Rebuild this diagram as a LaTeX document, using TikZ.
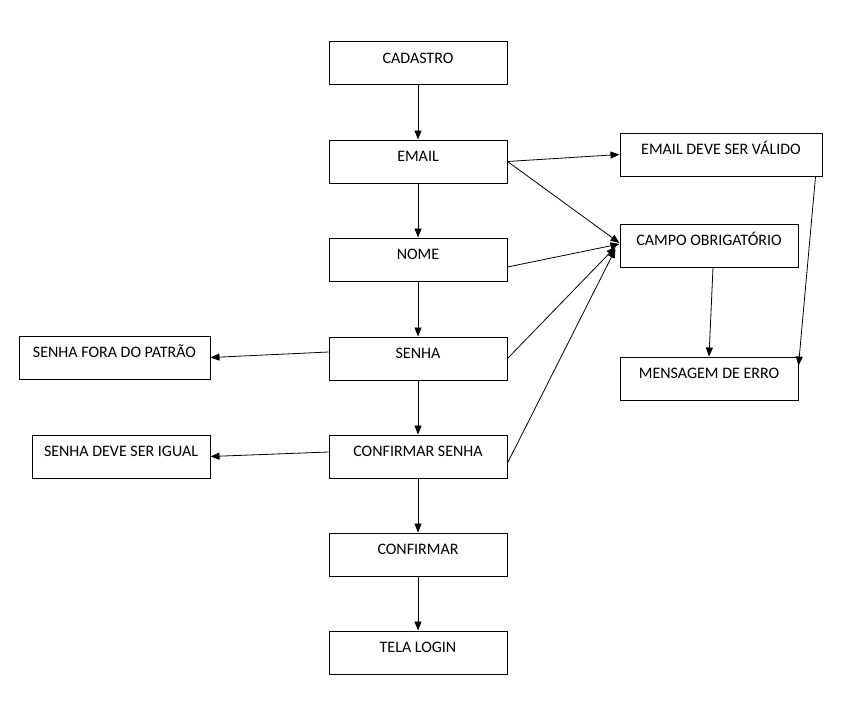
\documentclass[tikz,border=0pt]{standalone}
\usepackage{fontspec}
\setmainfont{Carlito}
\usetikzlibrary{arrows.meta}
\begin{document}
\begin{tikzpicture}[x=1pt,y=-1pt,
  box/.style={draw=black,line width=1pt,minimum height=43pt,inner sep=1pt,
    text height=10pt,text depth=9.7pt,font=\fontsize{16}{19}\selectfont},
  arr/.style={draw=black,line width=0.8pt,-{Triangle[length=9pt,width=7pt]}}]
\useasboundingbox (0,0) rectangle (845,706);
% main column
\node[box,minimum width=178pt] (cad) at (418,63.5) {CADASTRO};
\node[box,minimum width=178pt] (email) at (418,161.5) {EMAIL};
\node[box,minimum width=178pt] (nome) at (418,259.5) {NOME};
\node[box,minimum width=178pt] (senha) at (418,358.5) {SENHA};
\node[box,minimum width=178pt] (conf) at (418,456.5) {CONFIRMAR SENHA};
\node[box,minimum width=178pt] (confirmar) at (418,554.5) {CONFIRMAR};
\node[box,minimum width=178pt] (login) at (418,652.5) {TELA LOGIN};
% right column
\node[box,minimum width=202pt] (valido) at (721,154.5) {EMAIL DEVE SER VÁLIDO};
\node[box,minimum width=178pt] (campo) at (709,245.5) {CAMPO OBRIGATÓRIO};
\node[box,minimum width=178pt] (msg) at (709,378.5) {MENSAGEM DE ERRO};
% left column
\node[box,minimum width=191pt] (fora) at (114.5,357.5) {SENHA FORA DO PATRÃO};
\node[box,minimum width=178pt] (igual) at (121,456.5) {SENHA DEVE SER IGUAL};
% vertical flow
\draw[arr] (cad.south) -- (email.north);
\draw[arr] (email.south) -- (nome.north);
\draw[arr] (nome.south) -- (senha.north);
\draw[arr] (senha.south) -- (conf.north);
\draw[arr] (conf.south) -- (confirmar.north);
\draw[arr] (confirmar.south) -- (login.north);
% to the right
\draw[arr] (email.east) -- (valido.west);
\draw[arr] (email.east) -- ([yshift=2.5pt]campo.west);
\draw[arr] ([yshift=-7.5pt]nome.east) -- ([yshift=1.5pt]campo.west);
\draw[arr] (senha.east) -- ([xshift=-4pt,yshift=-1.5pt]campo.west);
\draw[arr] ([yshift=-6.5pt]conf.east) -- ([xshift=-4pt,yshift=-3.5pt]campo.west);
\draw[arr] ([xshift=4pt]campo.south) -- (msg.north);
\draw[arr] ([xshift=-7pt]valido.south east) -- ([yshift=-9pt]msg.north east);
% to the left
\draw[arr] ([yshift=6.5pt]senha.west) -- (fora.east);
\draw[arr] ([yshift=4.5pt]conf.west) -- (igual.east);
\end{tikzpicture}
\end{document}
